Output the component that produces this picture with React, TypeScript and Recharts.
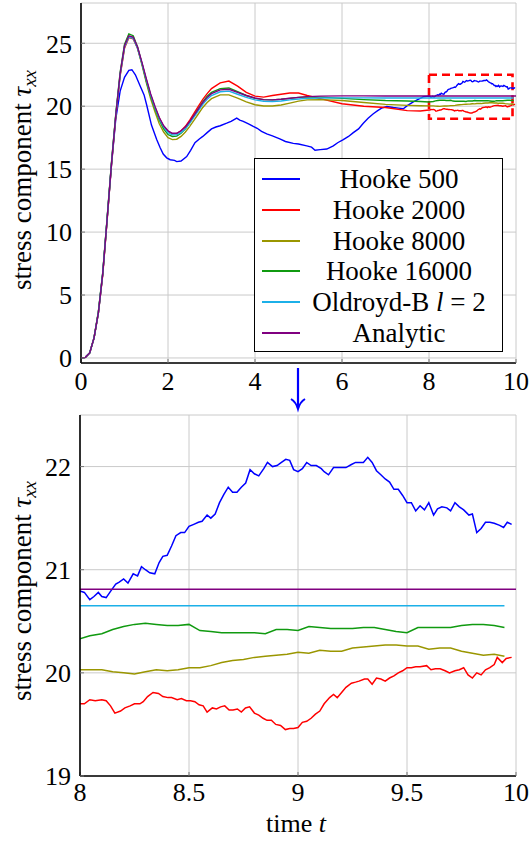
import React from "react";
import { LineChart, Line, XAxis, YAxis, CartesianGrid, ReferenceArea, Legend } from "recharts";

const FONT = "Liberation Serif";

// shared time grid for the smooth part (t = 0 .. 7.8)
const tEarly = [
  0, 0.1, 0.2, 0.3, 0.4, 0.5, 0.6, 0.7, 0.8, 0.9, 1.0, 1.1, 1.2, 1.3, 1.4, 1.5, 1.6, 1.7, 1.8, 1.9,
  2.0, 2.1, 2.2, 2.3, 2.4, 2.5, 2.6, 2.7, 2.8, 2.9, 3.0,
  3.2, 3.4, 3.6, 3.8, 4.0, 4.2, 4.4, 4.6, 4.8, 5.0, 5.2, 5.5, 6.0, 6.5, 7.0, 7.5, 7.8,
];

const analyticEarly = [
  0, 0.05, 0.4, 1.6, 3.6, 6.7, 11.0, 15.4, 19.3, 22.6, 24.8, 25.6, 25.5, 24.7, 23.5, 22.2, 21.0, 20.0, 19.1, 18.45,
  18.05, 17.85, 17.85, 18.05, 18.35, 18.8, 19.3, 19.8, 20.3, 20.7, 21.0,
  21.3, 21.35, 21.1, 20.85, 20.65, 20.52, 20.5, 20.55, 20.63, 20.7, 20.76, 20.8, 20.82, 20.82, 20.81, 20.81, 20.81,
];
const oldroydEarly = [
  0, 0.05, 0.4, 1.6, 3.6, 6.7, 11.0, 15.4, 19.3, 22.5, 24.7, 25.5, 25.4, 24.6, 23.4, 22.1, 20.9, 19.9, 19.0, 18.35,
  17.9, 17.72, 17.72, 17.9, 18.2, 18.65, 19.15, 19.65, 20.15, 20.55, 20.85,
  21.15, 21.2, 20.95, 20.7, 20.5, 20.4, 20.38, 20.42, 20.5, 20.57, 20.62, 20.65, 20.66, 20.66, 20.65, 20.65, 20.65,
];
const hooke16000Early = [
  0, 0.05, 0.4, 1.6, 3.7, 6.8, 11.1, 15.5, 19.4, 22.7, 24.9, 25.75, 25.6, 24.7, 23.4, 22.0, 20.8, 19.8, 18.9, 18.2,
  17.75, 17.6, 17.62, 17.85, 18.2, 18.7, 19.25, 19.8, 20.35, 20.8, 21.1,
  21.4, 21.45, 21.15, 20.85, 20.62, 20.52, 20.5, 20.55, 20.62, 20.7, 20.74, 20.72, 20.62, 20.52, 20.45, 20.42, 20.38,
];
const hooke2000Early = [
  0, 0.05, 0.4, 1.6, 3.6, 6.6, 10.9, 15.3, 19.2, 22.4, 24.6, 25.45, 25.35, 24.6, 23.4, 22.1, 20.9, 19.9, 19.05, 18.4,
  18.0, 17.8, 17.82, 18.05, 18.4, 18.9, 19.45, 20.0, 20.55, 21.0, 21.4,
  21.85, 22.0, 21.6, 21.1, 20.8, 20.72, 20.85, 20.95, 21.05, 21.05, 20.85, 20.6, 20.2, 20.0, 19.9, 19.65, 19.62,
];
const hooke8000Early = [
  0, 0.05, 0.4, 1.6, 3.6, 6.7, 11.0, 15.4, 19.3, 22.5, 24.7, 25.55, 25.45, 24.6, 23.3, 21.9, 20.6, 19.55, 18.6, 17.95,
  17.5, 17.35, 17.38, 17.6, 17.95, 18.4, 18.9, 19.4, 19.9, 20.3, 20.6,
  20.9, 20.9, 20.65, 20.35, 20.12, 20.02, 20.02, 20.1, 20.25, 20.4, 20.5, 20.52, 20.45, 20.3, 20.15, 20.07, 20.04,
];

// Hooke 500 is noisy, so it keeps its own [t, value] pairs
const hooke500Early = [
  [0, 0], [0.1, 0.05], [0.2, 0.4], [0.3, 1.6], [0.4, 3.6], [0.5, 6.7], [0.6, 11.0], [0.7, 15.3], [0.8, 19.0],
  [0.9, 21.2], [1.0, 22.3], [1.1, 22.85], [1.17, 22.9], [1.25, 22.5], [1.36, 21.6], [1.45, 20.9], [1.51, 20.1],
  [1.62, 18.5], [1.74, 17.35], [1.82, 16.7], [1.89, 16.2], [1.97, 15.9], [2.05, 15.75], [2.15, 15.7], [2.2, 15.6],
  [2.3, 15.65], [2.43, 16.0], [2.52, 16.5], [2.62, 17.1], [2.72, 17.4], [2.8, 17.6], [2.9, 17.9], [3.0, 18.2],
  [3.1, 18.35], [3.2, 18.45], [3.35, 18.65], [3.45, 18.8], [3.58, 19.05], [3.65, 18.9], [3.73, 18.8], [3.85, 18.6],
  [3.96, 18.4], [4.05, 18.25], [4.15, 18.0], [4.27, 17.8], [4.4, 17.65], [4.57, 17.4], [4.7, 17.2], [4.88, 17.05],
  [5.0, 17.0], [5.19, 16.85], [5.3, 16.75], [5.38, 16.5], [5.5, 16.55], [5.65, 16.6], [5.8, 16.85], [5.9, 17.1],
  [6.03, 17.35], [6.15, 17.6], [6.26, 17.9], [6.38, 18.2], [6.49, 18.65], [6.6, 19.05], [6.72, 19.4], [6.82, 19.65],
  [6.91, 19.85], [7.03, 19.98], [7.18, 19.9], [7.3, 19.85], [7.41, 19.8], [7.5, 20.05], [7.64, 20.35], [7.75, 20.55],
  [7.87, 20.75], [7.95, 20.78],
];

// tails (t = 8 .. 10)
const hooke500Tail = [
  [8.004, 20.79], [8.02, 20.78], [8.045, 20.71], [8.064, 20.74], [8.084, 20.78], [8.1, 20.74], [8.12, 20.73],
  [8.14, 20.79], [8.164, 20.86], [8.18, 20.88], [8.2, 20.91], [8.22, 20.87], [8.244, 20.96], [8.264, 20.94],
  [8.282, 21.03], [8.3, 21.0], [8.32, 20.97], [8.343, 20.96], [8.363, 21.07], [8.38, 21.13], [8.4, 21.14],
  [8.42, 21.23], [8.44, 21.33], [8.462, 21.36], [8.48, 21.36], [8.5, 21.42], [8.522, 21.44], [8.543, 21.46],
  [8.56, 21.47], [8.583, 21.53], [8.6, 21.5], [8.62, 21.54], [8.64, 21.65], [8.66, 21.73], [8.68, 21.8],
  [8.7, 21.75], [8.72, 21.75], [8.74, 21.8], [8.76, 21.84], [8.78, 21.97], [8.8, 21.93], [8.82, 21.91],
  [8.843, 21.98], [8.86, 22.04], [8.883, 22.0], [8.904, 22.01], [8.924, 22.04], [8.944, 22.07], [8.962, 22.06],
  [8.98, 21.97], [9.0, 21.95], [9.02, 21.98], [9.04, 22.04], [9.06, 22.01], [9.084, 22.01], [9.107, 21.98],
  [9.12, 21.95], [9.14, 21.92], [9.163, 21.99], [9.18, 21.99], [9.22, 21.99], [9.245, 22.02], [9.264, 22.04],
  [9.3, 22.04], [9.32, 22.09], [9.34, 22.04], [9.36, 21.96], [9.38, 21.92], [9.4, 21.88], [9.42, 21.85],
  [9.44, 21.78], [9.46, 21.78], [9.48, 21.72], [9.5, 21.65], [9.52, 21.65], [9.54, 21.57], [9.56, 21.62],
  [9.58, 21.58], [9.6, 21.65], [9.622, 21.53], [9.64, 21.59], [9.66, 21.61], [9.683, 21.6], [9.7, 21.57],
  [9.72, 21.65], [9.74, 21.61], [9.76, 21.58], [9.784, 21.53], [9.8, 21.54], [9.82, 21.36], [9.84, 21.4],
  [9.86, 21.46], [9.88, 21.46], [9.9, 21.45], [9.925, 21.43], [9.943, 21.41], [9.96, 21.46], [9.98, 21.44],
];
const hooke2000Tail = [
  [8.0, 19.7], [8.02, 19.7], [8.045, 19.74], [8.07, 19.73], [8.1, 19.74], [8.12, 19.73], [8.14, 19.68],
  [8.16, 19.61], [8.186, 19.63], [8.206, 19.66], [8.23, 19.68], [8.25, 19.7], [8.275, 19.7], [8.29, 19.72],
  [8.31, 19.77], [8.335, 19.81], [8.36, 19.8], [8.38, 19.77], [8.404, 19.76], [8.42, 19.76], [8.446, 19.74],
  [8.465, 19.75], [8.488, 19.73], [8.507, 19.73], [8.527, 19.72], [8.546, 19.69], [8.565, 19.68], [8.583, 19.62],
  [8.607, 19.66], [8.626, 19.65], [8.645, 19.67], [8.664, 19.68], [8.684, 19.64], [8.702, 19.64], [8.722, 19.65],
  [8.74, 19.62], [8.759, 19.66], [8.778, 19.67], [8.8, 19.61], [8.82, 19.59], [8.84, 19.56], [8.858, 19.54],
  [8.878, 19.54], [8.898, 19.5], [8.92, 19.49], [8.942, 19.45], [8.962, 19.46], [8.98, 19.46], [9.0, 19.47],
  [9.02, 19.52], [9.04, 19.53], [9.06, 19.56], [9.08, 19.6], [9.1, 19.63], [9.12, 19.7], [9.145, 19.76],
  [9.163, 19.79], [9.18, 19.76], [9.2, 19.81], [9.22, 19.86], [9.245, 19.9], [9.264, 19.91], [9.28, 19.92],
  [9.305, 19.94], [9.32, 19.94], [9.34, 19.89], [9.36, 19.95], [9.38, 19.94], [9.4, 19.92], [9.42, 19.95],
  [9.44, 19.97], [9.46, 20.0], [9.48, 20.02], [9.5, 20.05], [9.52, 20.05], [9.54, 20.06], [9.56, 20.06],
  [9.59, 20.07], [9.61, 20.03], [9.63, 20.04], [9.652, 20.04], [9.675, 20.02], [9.695, 20.0], [9.72, 20.02],
  [9.74, 20.03], [9.76, 20.05], [9.78, 19.98], [9.8, 19.95], [9.82, 20.0], [9.84, 19.98], [9.86, 20.03],
  [9.88, 20.05], [9.9, 20.08], [9.914, 20.15], [9.937, 20.1], [9.955, 20.14], [9.98, 20.15],
];
const hooke8000Tail = [
  [8.0, 20.03], [8.045, 20.03], [8.1, 20.03], [8.15, 20.01], [8.2, 20.0], [8.25, 19.99], [8.3, 20.01],
  [8.35, 20.03], [8.4, 20.02], [8.45, 20.03], [8.5, 20.05], [8.55, 20.05], [8.6, 20.07], [8.65, 20.1],
  [8.7, 20.12], [8.75, 20.13], [8.8, 20.15], [8.85, 20.16], [8.9, 20.17], [8.95, 20.18], [9.0, 20.2],
  [9.05, 20.19], [9.1, 20.22], [9.15, 20.21], [9.2, 20.21], [9.25, 20.24], [9.3, 20.25], [9.35, 20.26],
  [9.4, 20.27], [9.45, 20.27], [9.5, 20.26], [9.55, 20.26], [9.6, 20.23], [9.65, 20.24], [9.7, 20.24],
  [9.75, 20.21], [9.8, 20.19], [9.85, 20.17], [9.9, 20.18], [9.947, 20.16],
];
const hooke16000Tail = [
  [8.0, 20.33], [8.045, 20.36], [8.1, 20.38], [8.15, 20.42], [8.2, 20.45], [8.25, 20.47], [8.3, 20.48],
  [8.35, 20.47], [8.4, 20.46], [8.45, 20.46], [8.5, 20.47], [8.55, 20.41], [8.6, 20.4], [8.65, 20.39],
  [8.7, 20.39], [8.75, 20.39], [8.8, 20.39], [8.85, 20.38], [8.9, 20.42], [8.95, 20.42], [9.0, 20.41],
  [9.05, 20.45], [9.1, 20.44], [9.15, 20.43], [9.2, 20.43], [9.25, 20.43], [9.3, 20.44], [9.35, 20.44],
  [9.4, 20.42], [9.45, 20.4], [9.5, 20.39], [9.55, 20.44], [9.6, 20.44], [9.65, 20.44], [9.7, 20.44],
  [9.75, 20.46], [9.8, 20.47], [9.85, 20.47], [9.9, 20.46], [9.947, 20.44],
];
const oldroydTail = [[8.0, 20.65], [9.947, 20.65]];
const analyticTail = [[8.0, 20.81], [10.0, 20.81]];

const topXTicks = [0, 2, 4, 6, 8, 10];
const topYTicks = [0, 5, 10, 15, 20, 25];
const zoomXTicks = [8, 8.5, 9, 9.5, 10];
const zoomYTicks = [19, 20, 21, 22];
const zoomBox = { x1: 8, x2: 9.92, y1: 19, y2: 22.5 };

const fromGrid = (vals: number[]) => vals.map((v, i) => ({ t: tEarly[i], v }));
const fromPairs = (pairs: number[][]) => pairs.map(([t, v]) => ({ t, v }));

const SERIES = [
  { key: "h500", label: <>Hooke 500</>, color: "#0000ff", data: [...fromPairs(hooke500Early), ...fromPairs(hooke500Tail)] },
  { key: "h2000", label: <>Hooke 2000</>, color: "#ff0000", data: [...fromGrid(hooke2000Early), ...fromPairs(hooke2000Tail)] },
  { key: "h8000", label: <>Hooke 8000</>, color: "#9a9600", data: [...fromGrid(hooke8000Early), ...fromPairs(hooke8000Tail)] },
  { key: "h16000", label: <>Hooke 16000</>, color: "#109a10", data: [...fromGrid(hooke16000Early), ...fromPairs(hooke16000Tail)] },
  { key: "oldroyd", label: <>Oldroyd-B <i>l</i> = 2</>, color: "#1cb0e8", data: [...fromGrid(oldroydEarly), ...fromPairs(oldroydTail)] },
  { key: "analytic", label: <>Analytic</>, color: "#800080", data: [...fromGrid(analyticEarly), ...fromPairs(analyticTail)] },
];

const noTick = () => <g />;

const XTick = (props: any) => (
  <text x={props.x} y={props.y} dy="0.71em" textAnchor="middle" fontFamily={FONT} fontSize={26} fill="#000">
    {props.payload.value}
  </text>
);
const YTick = (props: any) => (
  <text x={props.x} y={props.y} dy="0.355em" textAnchor="end" fontFamily={FONT} fontSize={26} fill="#000">
    {props.payload.value}
  </text>
);

const yLabel = (cy: number) => () => (
  <text x={31} y={cy} transform={`rotate(-90 31 ${cy})`} textAnchor="middle" fontFamily={FONT} fontSize={27} fill="#000">
    stress component <tspan fontStyle="italic">τ</tspan>
    <tspan fontStyle="italic" fontSize={19} dy={5}>xx</tspan>
  </text>
);

const xLabel = () => (
  <text x={296} y={422} textAnchor="middle" fontFamily={FONT} fontSize={26} fill="#000">
    time <tspan fontStyle="italic">t</tspan>
  </text>
);

const ROW_TOPS = [5, 36, 67, 97, 128, 159];

const LegendBox = () => (
  <div
    style={{
      position: "relative", width: 249, height: 194, boxSizing: "border-box", border: "1.6px solid #000",
      background: "#fff", fontFamily: FONT, fontSize: 27, color: "#000",
    }}
  >
    {SERIES.map((s, i) => (
      <div key={s.key} style={{ position: "absolute", left: 0, top: ROW_TOPS[i], width: 246, height: 30 }}>
        <div style={{ position: "absolute", left: 7, width: 38, top: 14, height: 2, background: s.color }} />
        <div style={{ position: "absolute", left: 52, width: 184, top: 0, textAlign: "center", lineHeight: "30px", whiteSpace: "nowrap" }}>
          {s.label}
        </div>
      </div>
    ))}
  </div>
);

const frameAxes = (xDomain: number[], yDomain: number[], xTicks: number[], yTicks: number[]) => [
  <XAxis key="xt" xAxisId="top" orientation="top" type="number" dataKey="t" domain={xDomain} ticks={xTicks}
    allowDataOverflow height={0} tick={noTick} tickSize={-4} stroke="#000" strokeWidth={1.6}
    tickLine={{ stroke: "#777", strokeWidth: 1 }} />,
  <YAxis key="yr" yAxisId="right" orientation="right" type="number" domain={yDomain} ticks={yTicks}
    allowDataOverflow width={0} tick={noTick} tickSize={-4} stroke="#000" strokeWidth={1.6}
    tickLine={{ stroke: "#777", strokeWidth: 1 }} />,
];

const StressChart = () => (
  <div style={{ position: "absolute", left: 0, top: 0, width: 530, height: 843, background: "#fff", fontFamily: FONT }}>
    <div style={{ position: "absolute", left: 0, top: 0 }}>
      <LineChart width={530} height={400} margin={{ top: 3, right: 14, bottom: 0, left: 0 }}>
        <CartesianGrid stroke="#cacaca" strokeWidth={1} />
        <XAxis type="number" dataKey="t" domain={[0, 10]} ticks={topXTicks} allowDataOverflow height={37}
          tick={XTick} tickSize={-4} tickMargin={13} stroke="#000" strokeWidth={1.6}
          tickLine={{ stroke: "#777", strokeWidth: 1 }} />
        <YAxis type="number" domain={[-0.4, 28.2]} ticks={topYTicks} allowDataOverflow width={81}
          tick={YTick} tickSize={-4} tickMargin={13} stroke="#000" strokeWidth={1.6}
          tickLine={{ stroke: "#777", strokeWidth: 1 }} label={yLabel(180)} />
        {frameAxes([0, 10], [-0.4, 28.2], topXTicks, topYTicks)}
        {SERIES.map((s) => (
          <Line key={s.key} data={s.data} dataKey="v" type="linear" stroke={s.color} strokeWidth={1.4}
            dot={false} activeDot={false} isAnimationActive={false} />
        ))}
        <ReferenceArea x1={zoomBox.x1} x2={zoomBox.x2} y1={zoomBox.y1} y2={zoomBox.y2} fill="none" fillOpacity={0}
          stroke="#ff0000" strokeWidth={2.6} strokeDasharray="8 5" ifOverflow="visible" />
        <Legend content={LegendBox} layout="vertical" align="center" verticalAlign="middle"
          wrapperStyle={{ left: 254, top: 158, width: 249, height: 194 }} />
      </LineChart>
    </div>

    <div style={{ position: "absolute", left: 0, top: 410 }}>
      <LineChart width={530} height={433} margin={{ top: 5, right: 14, bottom: 0, left: 0 }}>
        <CartesianGrid stroke="#cacaca" strokeWidth={1} />
        <XAxis type="number" dataKey="t" domain={[8, 10]} ticks={zoomXTicks} allowDataOverflow height={67}
          tick={XTick} tickSize={-4} tickMargin={11} stroke="#000" strokeWidth={1.6}
          tickLine={{ stroke: "#777", strokeWidth: 1 }} label={xLabel} />
        <YAxis type="number" domain={[19, 22.5]} ticks={zoomYTicks} allowDataOverflow width={80}
          tick={YTick} tickSize={-4} tickMargin={13} stroke="#000" strokeWidth={1.6}
          tickLine={{ stroke: "#777", strokeWidth: 1 }} label={yLabel(181)} />
        {frameAxes([8, 10], [19, 22.5], zoomXTicks, zoomYTicks)}
        {SERIES.map((s) => (
          <Line key={s.key} data={s.data} dataKey="v" type="linear" stroke={s.color} strokeWidth={1.5}
            dot={false} activeDot={false} isAnimationActive={false} />
        ))}
      </LineChart>
    </div>

    {/* arrow pointing from the zoom box down to the lower panel */}
    <svg width={530} height={843} style={{ position: "absolute", left: 0, top: 0, pointerEvents: "none" }}>
      <line x1={298} y1={368} x2={298} y2={408} stroke="#0000ff" strokeWidth={2.2} />
      <path d="M291,399 Q296,402 298,409 Q300,402 305,399" stroke="#0000ff" strokeWidth={2} fill="none" />
    </svg>
  </div>
);

export default function App() {
  return <StressChart />;
}
